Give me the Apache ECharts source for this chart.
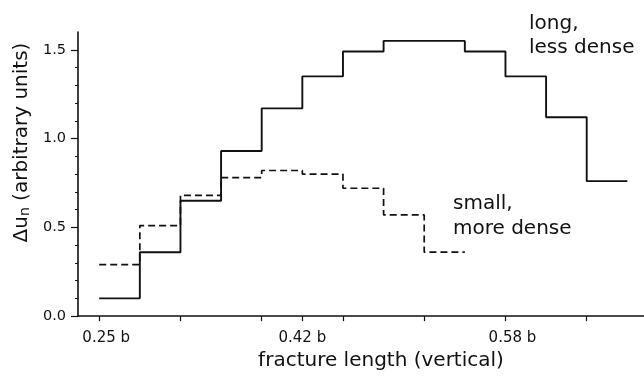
<!DOCTYPE html>
<html>
<head>
<meta charset="utf-8">
<script src="https://cdn.jsdelivr.net/npm/echarts@6/dist/echarts.min.js"></script>
<style>
html,body{margin:0;padding:0;background:#fff;}
#chart{width:644px;height:376px;}
</style>
</head>
<body>
<div id="chart"></div>
<script>
// ---- data ----
const binCount = 13;
const longLessDense = [0.10, 0.36, 0.65, 0.93, 1.17, 1.35, 1.49, 1.55, 1.55, 1.49, 1.35, 1.12, 0.76];
const smallMoreDense = [0.29, 0.51, 0.68, 0.78, 0.82, 0.80, 0.72, 0.57, 0.36];
const xTickBins = [0, 2, 4, 5, 6, 8, 10, 12];
const xLabelBins = [0, 5, 10];
const xLabels = ['0.25 b', '0.42 b', '0.58 b'];
const yMajorTicks = [0, 0.5, 1.0, 1.5];
const yMinorTicks = [0.1, 0.2, 0.3, 0.4, 0.6, 0.7, 0.8, 0.9, 1.1, 1.2, 1.3, 1.4];
const xName = 'fracture length (vertical)';
const annLong = 'long,\nless dense';
const annSmall = 'small,\nmore dense';

const FONT = '"DejaVu Sans", sans-serif';
const INK = '#111';

function stepData(vals) {
  const d = vals.map((v, i) => [i, v]);
  d.push([vals.length, vals[vals.length - 1]]);
  return d;
}

const chart = echarts.init(document.getElementById('chart'), null, {renderer: 'canvas'});
chart.setOption({
  animation: false,
  backgroundColor: '#fff',
  grid: {left: 78, right: 0, top: 32, bottom: 59, containLabel: false},
  xAxis: {
    type: 'value', min: -0.522, max: 13.41,
    axisLine: {show: true, onZero: false, lineStyle: {color: INK, width: 1.6}},
    axisTick: {show: true, customValues: xTickBins, length: 5, lineStyle: {color: INK, width: 1.2}},
    axisLabel: {
      customValues: xLabelBins,
      formatter: v => {
        const k = xLabelBins.indexOf(Math.round(v));
        return k < 0 ? '' : '{l' + k + '|' + xLabels[k] + '}';
      },
      fontFamily: FONT, fontSize: 15, color: INK, margin: 15,
      rich: {
        l0: {fontFamily: FONT, fontSize: 15, color: INK, padding: [0, 0, 0, 14]},
        l1: {fontFamily: FONT, fontSize: 15, color: INK},
        l2: {fontFamily: FONT, fontSize: 15, color: INK, padding: [0, 0, 0, 14]}
      }
    },
    splitLine: {show: false},
    name: xName, nameLocation: 'middle', nameGap: 30,
    nameTextStyle: {fontFamily: FONT, fontSize: 20, color: INK, padding: [0, 0, 0, 40]}
  },
  yAxis: [{
    type: 'value', min: 0, max: 1.6, position: 'left',
    axisLine: {show: true, onZero: false, lineStyle: {color: INK, width: 1.6}},
    axisTick: {show: true, customValues: yMinorTicks, length: 3, lineStyle: {color: INK, width: 1}},
    axisLabel: {customValues: yMajorTicks, formatter: v => v.toFixed(1), fontFamily: FONT, fontSize: 14.5, color: INK, margin: 12},
    splitLine: {show: false},
    name: '{d|Δu}{s|n}{d| (arbitrary units)}',
    nameLocation: 'middle', nameGap: 46, nameRotate: 90,
    nameTextStyle: {
      color: INK, padding: [0, 0, 0, 63],
      rich: {
        d: {fontFamily: FONT, fontSize: 20, lineHeight: 20, color: INK, verticalAlign: 'top'},
        s: {fontFamily: FONT, fontSize: 14, lineHeight: 14, color: INK, verticalAlign: 'bottom', padding: [10, 0, 0, 0]}
      }
    }
  }, {
    type: 'value', min: 0, max: 1.6, position: 'left',
    axisLine: {show: false, onZero: false},
    axisTick: {show: true, customValues: yMajorTicks, length: 7, lineStyle: {color: INK, width: 1.2}},
    axisLabel: {show: false},
    splitLine: {show: false}
  }],
  series: [{
    name: 'long, less dense', type: 'line', step: 'end', showSymbol: false, symbol: 'none',
    data: stepData(longLessDense),
    lineStyle: {color: INK, width: 1.9}
  }, {
    name: 'small, more dense', type: 'line', step: 'end', showSymbol: false, symbol: 'none',
    data: stepData(smallMoreDense),
    lineStyle: {color: INK, width: 1.7, type: [7, 4]}
  }],
  graphic: [{
    type: 'text', x: 529, y: 12,
    style: {text: annLong, font: '20px ' + FONT, lineHeight: 24, fill: INK, verticalAlign: 'top'}
  }, {
    type: 'text', x: 453, y: 191,
    style: {text: annSmall, font: '20px ' + FONT, lineHeight: 25, fill: INK, verticalAlign: 'top'}
  }]
});
</script>
</body>
</html>
